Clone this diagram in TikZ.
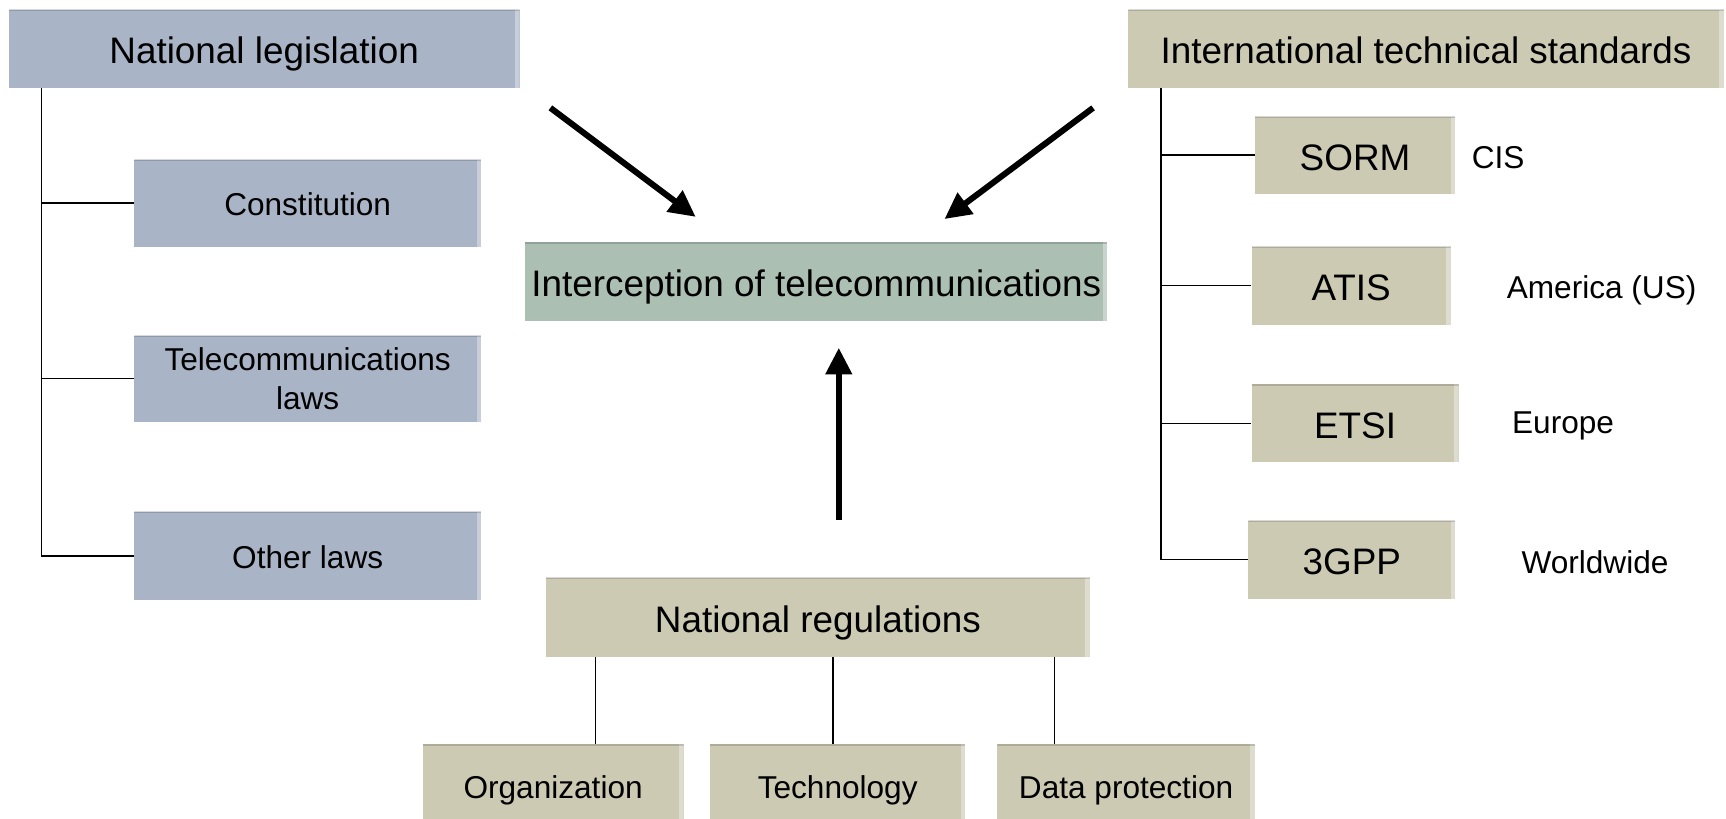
\documentclass[tikz,border=0pt]{standalone}
\usepackage{fontspec}
\setmainfont{Liberation Sans}
\usetikzlibrary{arrows.meta}
\definecolor{legblue}{HTML}{A9B5C6}
\definecolor{stdtan}{HTML}{CDCAB4}
\definecolor{icgreen}{HTML}{ABBFB3}
\tikzset{
  box/.style={inner sep=0pt,
    path picture={
      \fill[white, opacity=.35] ([xshift=-4pt]path picture bounding box.north east) rectangle (path picture bounding box.south east);
      \draw[black, opacity=.15, line width=2.5pt] (path picture bounding box.north west) -- (path picture bounding box.north east);
    }},
  bigtxt/.style={font=\fontsize{33.5}{38}\selectfont},
  smalltxt/.style={font=\fontsize{28.7}{35}\selectfont},
  bigone/.style={bigtxt, text height=27pt, text depth=0pt},
  smallone/.style={smalltxt, text height=23pt, text depth=0pt},
  legbox/.style={box, fill=legblue},
  stdbox/.style={box, fill=stdtan},
  icbox/.style={box, fill=icgreen},
  tree/.style={line width=1.3pt, black},
  bigarrow/.style={line width=5.5pt, -{Triangle[length=24pt, width=23pt]}},
}
\begin{document}
\begin{tikzpicture}[x=1pt, y=-1pt]
\useasboundingbox (0,0) rectangle (1568,744);

% national legislation column
\node[legbox, bigone, minimum width=464, minimum height=71] (natleg) at (240,44.5) {National legislation};
\node[legbox, smallone, minimum width=315, minimum height=79] (const) at (279.5,184.5) {Constitution};
\node[legbox, smalltxt, align=center, minimum width=315, minimum height=78] (tel) at (279.5,344) {Telecommunications\\laws};
\node[legbox, smallone, minimum width=315, minimum height=80] (other) at (279.5,505) {Other laws};

% centre
\node[icbox, bigone, minimum width=529, minimum height=72] (interc) at (741.5,256) {Interception of telecommunications};

% international standards column
\node[stdbox, bigone, minimum width=541, minimum height=71] (intl) at (1295.5,44.5) {International technical standards};
\node[stdbox, bigone, minimum width=182, minimum height=70] (sorm) at (1231,141) {SORM};
\node[stdbox, bigone, minimum width=181, minimum height=71] (atis) at (1227.5,259.5) {ATIS};
\node[stdbox, bigone, minimum width=188, minimum height=71] (etsi) at (1231,384.5) {ETSI};
\node[stdbox, bigone, minimum width=188, minimum height=71] (tgpp) at (1228,508.5) {3GPP};

\node[smalltxt] (cis) at (1361,143) {CIS};
\node[smalltxt] (us) at (1455,264) {America (US)};
\node[smalltxt] (eu) at (1420,387) {Europe};
\node[smalltxt] (ww) at (1449,511) {Worldwide};

% national regulations
\node[stdbox, bigone, minimum width=494, minimum height=72] (natreg) at (743,561) {National regulations};
\node[stdbox, smallone, minimum width=237, minimum height=76] (org) at (502.5,714) {Organization};
\node[stdbox, smallone, minimum width=232, minimum height=76] (tech) at (761,714) {Technology};
\node[stdbox, smallone, minimum width=234, minimum height=76] (datap) at (1023,714) {Data protection};

% tree connectors
\draw[tree] ([xshift=30pt]natleg.south west) coordinate (ls) |- (other.west);
\draw[tree] (ls |- const.west) -- (const.west);
\draw[tree] (ls |- tel.west) -- (tel.west);

\draw[tree] ([xshift=30pt]intl.south west) coordinate (rs) |- (tgpp.west);
\draw[tree] (rs |- sorm.west) -- (sorm.west);
\draw[tree] (rs |- atis.west) -- (atis.west);
\draw[tree] (rs |- etsi.west) -- (etsi.west);

\draw[tree] ([xshift=45pt]natreg.south west) coordinate (b1) -- (b1 |- org.north);
\draw[tree] ([xshift=261pt]natreg.south west) coordinate (b2) -- (b2 |- tech.north);
\draw[tree] ([xshift=462pt]natreg.south west) coordinate (b3) -- (b3 |- datap.north);

% influence arrows
\coordinate (a1s) at (500,98);  \coordinate (a1e) at (632,197);
\coordinate (a2s) at (993,98);  \coordinate (a2e) at (858,199);
\coordinate (a3s) at (762,472); \coordinate (a3e) at (762,316);
\draw[bigarrow] (a1s) -- (a1e);
\draw[bigarrow] (a2s) -- (a2e);
\draw[bigarrow] (a3s) -- (a3e);
\end{tikzpicture}
\end{document}
